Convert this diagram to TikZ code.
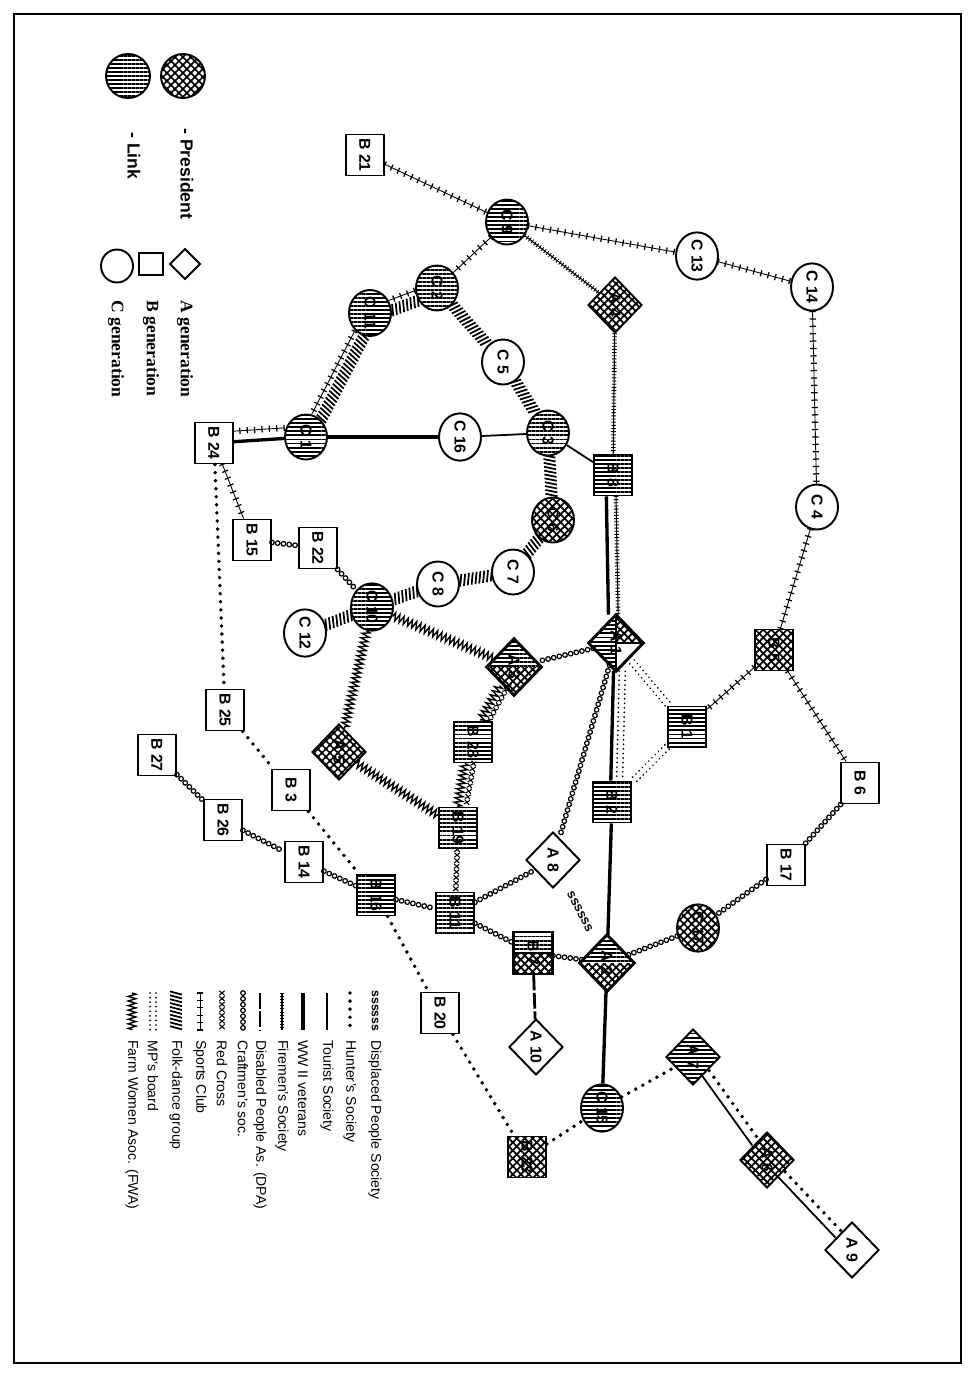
\documentclass[tikz,border=0pt]{standalone}
\usepackage{graphicx}
\usepackage{fontspec}
\setmainfont{Liberation Sans}
\newfontfamily\genfont{Liberation Serif}
\usetikzlibrary{shapes.geometric,patterns.meta,decorations.markings,decorations.pathmorphing}
\newcommand{\vlab}[1]{\rotatebox{-90}{#1}}

\tikzset{
  member/.style={draw, line width=1.1pt, inner sep=0pt, fill=white, font=\fontsize{9}{9}\selectfont\bfseries},
  anode/.style={member, diamond, aspect=1, minimum width=1.08cm, minimum height=1.12cm},
  bnode/.style={member, rectangle, minimum width=0.76cm, minimum height=0.82cm},
  cnode/.style={member, ellipse, minimum width=0.84cm, minimum height=0.9cm},
  lnk/.style={pattern={Lines[angle=0,distance=2.3pt,line width=1.1pt]}},
  pres/.style={pattern={Hatch[angle=45,distance=3.2pt,line width=1pt]}},
  % associations
  plusln/.style={draw, line width=0.5pt, postaction={decorate, decoration={markings,
    mark=between positions 0 and 1 step 4.2pt with {\draw[line width=0.7pt] (0,-1.8pt) -- (0,1.8pt);}}}},
  fire/.style={draw, line width=0.6pt, postaction={decorate, decoration={markings,
    mark=between positions 0 and 1 step 1.8pt with {\draw[line width=0.5pt] (0,-1.3pt) -- (0,1.3pt);}}}},
  xln/.style={postaction={decorate, decoration={markings,
    mark=between positions 0 and 1 step 3.2pt with {\draw[line width=0.6pt] (-1.3pt,-1.5pt) -- (1.3pt,1.5pt) (-1.3pt,1.5pt) -- (1.3pt,-1.5pt);}}}},
  ooln/.style={postaction={decorate, decoration={markings,
    mark=between positions 0 and 1 step 3.3pt with {\draw[line width=0.7pt] (0,0) circle (1.3pt);}}}},
  mpb/.style={postaction={decorate, decoration={markings,
    mark=between positions 0 and 1 step 2.6pt with {\fill (0,1.7pt) circle (0.55pt) (0,-1.7pt) circle (0.55pt);}}}},
  folk/.style={postaction={decorate, decoration={markings,
    mark=between positions 0 and 1 step 2.2pt with {\draw[line width=1pt] (-0.9pt,-3.4pt) -- (0.9pt,3.4pt);}}}},
  wwln/.style={draw, line width=0.8pt, decorate, decoration={zigzag, segment length=2.6pt, amplitude=2.2pt}},
  hunt/.style={draw, line width=2.2pt, line cap=round, dash pattern=on 0pt off 4.6pt},
  tour/.style={draw, line width=1pt},
  ww2/.style={draw, line width=1.9pt},
  dpa/.style={draw, line width=1.6pt, dash pattern=on 9pt off 1.5pt},
  ssslab/.style={sloped, inner sep=0pt, font=\fontsize{7.5}{7.5}\selectfont\bfseries},
  legtxt/.style={anchor=north, inner sep=0pt, font=\fontsize{8}{8}\selectfont},
  keytxt/.style={anchor=north, inner sep=0pt, font=\fontsize{10}{10}\selectfont\bfseries},
  gentxt/.style={anchor=north, inner sep=0pt, font=\fontsize{10}{10}\genfont\bfseries}
}

\begin{document}
\begin{tikzpicture}[x=0.02cm, y=-0.02cm]
\useasboundingbox (0,0) rectangle (974,1377);
\draw[line width=0.7pt] (14,14) rectangle (961,1363);

% key
\node[cnode, pres, minimum width=0.88cm, minimum height=0.88cm] (kpres) at (183,76) {};
\node[cnode, lnk, minimum width=0.88cm, minimum height=0.88cm] (klink) at (128,76) {};
\node[keytxt] (kprest) at (187,128) {\vlab{- President}};
\node[keytxt] (klinkt) at (134,132) {\vlab{- Link}};
\node[anode, minimum width=0.62cm, minimum height=0.62cm] (ka) at (185,264) {};
\node[bnode, minimum width=0.48cm, minimum height=0.44cm] (kb) at (151,264) {};
\node[cnode, minimum width=0.64cm, minimum height=0.66cm] (kc) at (117,266) {};
\node[gentxt] (kat) at (185,300) {\vlab{A generation}};
\node[gentxt] (kbt) at (151,300) {\vlab{B generation}};
\node[gentxt] (kct) at (116,300) {\vlab{C generation}};

% white members
\node[bnode] (b21) at (365,155) {\vlab{B 21}};
\node[cnode] (c13) at (697,256) {\vlab{C 13}};
\node[cnode] (c14) at (812,287) {\vlab{C 14}};
\node[cnode] (c5) at (503,362) {\vlab{C 5}};
\node[cnode] (c16) at (460,437) {\vlab{C 16}};
\node[bnode] (b24) at (214,443) {\vlab{B 24}};
\node[cnode] (c4) at (817,507) {\vlab{C 4}};
\node[bnode] (b15) at (252,540) {\vlab{B 15}};
\node[bnode] (b22) at (318,548) {\vlab{B 22}};
\node[cnode] (c7) at (513,572) {\vlab{C 7}};
\node[cnode] (c8) at (438,584) {\vlab{C 8}};
\node[cnode] (c12) at (305,633) {\vlab{C 12}};
\node[bnode] (b25) at (225,710) {\vlab{B 25}};
\node[bnode] (b27) at (157,755) {\vlab{B 27}};
\node[bnode] (b6) at (860,783) {\vlab{B 6}};
\node[bnode] (b3) at (291,790) {\vlab{B 3}};
\node[bnode] (b26) at (223,820) {\vlab{B 26}};
\node[bnode] (b14) at (304,862) {\vlab{B 14}};
\node[bnode] (b17) at (786,865) {\vlab{B 17}};
\node[anode] (a8) at (553,860) {\vlab{A 8}};
\node[bnode] (b20) at (440,1013) {\vlab{B 20}};
\node[anode] (a10) at (536,1047) {\vlab{A 10}};
\node[anode] (a9) at (852,1250) {\vlab{A 9}};

% links and presidents
\node[cnode, lnk] (c9) at (507,222) {\vlab{C 9}};
\node[cnode, lnk] (c2) at (437,288) {\vlab{C 2}};
\node[cnode, lnk] (c11) at (370,313) {\vlab{C 11}};
\node[cnode, lnk] (c1) at (306,437) {\vlab{C 1}};
\node[cnode, lnk] (c3) at (548,433) {\vlab{C 3}};
\node[cnode, pres] (c6) at (553,520) {\vlab{C 6}};
\node[cnode, lnk] (c10) at (372,607) {\vlab{C 10}};
\node[cnode, pres] (c17) at (698,928) {\vlab{C 17}};
\node[cnode, lnk] (c15) at (602,1108) {\vlab{C 15}};
\node[anode, pres] (a4) at (615,305) {\vlab{A 4}};
\node[anode, pres] (a5) at (339,752) {\vlab{A 5}};
\node[anode, lnk] (a7) at (693,1057) {\vlab{A 7}};
\node[anode, pres] (a6) at (767,1160) {\vlab{A 6}};
\node[bnode, lnk] (b8) at (613,475) {\vlab{B 8}};
\node[bnode, pres] (b5) at (774,650) {\vlab{B 5}};
\node[bnode, lnk] (b1) at (687,727) {\vlab{B 1}};
\node[bnode, lnk] (b28) at (473,742) {\vlab{B 28}};
\node[bnode, lnk] (b2) at (612,802) {\vlab{B 2}};
\node[bnode, lnk] (b19) at (458,828) {\vlab{B 19}};
\node[bnode, lnk] (b16) at (376,895) {\vlab{B 16}};
\node[bnode, lnk] (b11) at (455,913) {\vlab{B 11}};
\node[bnode, pres] (b23) at (527,1157) {\vlab{B 23}};

% split members
\node[anode] (a1) at (616,643) {\vlab{A 1}};
\fill[lnk] (a1.north) -- (a1.west) -- (a1.south) -- cycle;
\fill[pres] (a1.north) -- (a1.east) -- (a1.center) -- cycle;
\draw[line width=1.1pt] (a1.north) -- (a1.south) (a1.center) -- (a1.east);
\draw[line width=1.1pt] (a1.north) -- (a1.east) -- (a1.south) -- (a1.west) -- cycle;
\node[anode] (a3) at (514,667) {\vlab{A 3}};
\fill[lnk] (a3.west) -- (a3.north) -- (a3.east) -- cycle;
\fill[pres] (a3.west) -- (a3.south) -- (a3.east) -- cycle;
\draw[line width=1.1pt] (a3.north) -- (a3.east) -- (a3.south) -- (a3.west) -- cycle;
\node[anode] (a2) at (607,963) {\vlab{A 2}};
\fill[lnk] (a2.west) -- (a2.north) -- (a2.east) -- cycle;
\fill[pres] (a2.west) -- (a2.south) -- (a2.east) -- cycle;
\draw[line width=1.1pt] (a2.north) -- (a2.east) -- (a2.south) -- (a2.west) -- cycle;
\node[bnode] (b7) at (533,953) {\vlab{B 7}};
\fill[lnk] (b7.north west) rectangle (b7.east);
\fill[pres] (b7.west) rectangle (b7.south east);
\draw[line width=1.1pt] (b7.north west) rectangle (b7.south east) (b7.west) -- (b7.east);

% Sports Club
\path[plusln] (b21) -- (c9);
\path[plusln] (c9) -- (c13);
\path[plusln] (c13) -- (c14);
\path[plusln] (c14) -- (c4);
\path[plusln] (c4) -- (b5);
\path[plusln] (b5) -- (b1);
\path[plusln] (b5) -- (b6);
\path[plusln] (c9) -- (c2);
\path[plusln, transform canvas={xshift=-1pt, yshift=2.8pt}] (c2) -- (c11);
\path[plusln, transform canvas={xshift=-2.7pt, yshift=1.4pt}] (c11) -- (c1);
\path[plusln, transform canvas={yshift=6pt}] (c1) -- (b24);
\path[plusln] (b24) -- (b15);

% Folk-dance group
\path[folk, transform canvas={xshift=1pt, yshift=-2.8pt}] (c2) -- (c11);
\path[folk, transform canvas={xshift=2.7pt, yshift=-1.4pt}] (c11) -- (c1);
\path[folk] (c2) -- (c5);
\path[folk] (c5) -- (c3);
\path[folk] (c3) -- (c6);
\path[folk] (c6) -- (c7);
\path[folk] (c7) -- (c8);
\path[folk] (c8) -- (c10);
\path[folk] (c10) -- (c12);

% Tourist Society, WW II veterans
\path[ww2] (b24) -- (c1);
\path[ww2] (c1) -- (c16);
\path[tour] (c16) -- (c3);
\path[tour] (c3) -- (b8);
\path[ww2, transform canvas={xshift=-4pt}] (b8) -- (a1);
\path[ww2, transform canvas={xshift=-1pt}] (a1) -- (b2);
\path[ww2] (b2) -- (a2);
\path[ww2] (a2) -- (c15);
\path[tour, transform canvas={xshift=-1.6pt, yshift=-1.2pt}] (a7) -- (a6);
\path[tour, transform canvas={xshift=-1.6pt, yshift=-1.2pt}] (a6) -- (a9);

% Firemen's Society
\path[fire] (c9) -- (a4);
\path[fire] (a4) -- (b8);
\path[fire, transform canvas={xshift=1.5pt}] (b8) -- (a1);

% MP's board
\path[mpb, transform canvas={xshift=4pt}] (a1) -- (b2);
\path[mpb] (a1) -- (b1);
\path[mpb] (b1) -- (b2);

% Craftmen's soc.
\path[ooln] (b6) -- (b17);
\path[ooln] (b17) -- (c17);
\path[ooln] (c17) -- (a2);
\path[ooln] (a1) -- (a3);
\path[ooln] (a1) -- (a8);
\path[ooln] (b11) -- (a8);
\path[ooln] (b11) -- (b7);
\path[ooln] (b16) -- (b11);
\path[ooln] (b7) -- (a2);
\path[ooln] (b14) -- (b16);
\path[ooln] (b26) -- (b14);
\path[ooln] (b27) -- (b26);
\path[ooln] (b15) -- (b22);
\path[ooln] (b22) -- (c10);

% Red Cross
\path[xln, transform canvas={xshift=2.5pt}] (a3) -- (b28);
\path[xln, transform canvas={xshift=2.5pt}] (b28) -- (b19);
\path[xln] (b19) -- (b11);

% FWA
\path[wwln] (a3) -- (c10);
\path[wwln, transform canvas={xshift=-2.5pt}] (a3) -- (b28);
\path[wwln] (c10) -- (a5);
\path[wwln] (a5) -- (b19);
\path[wwln, transform canvas={xshift=-2.5pt}] (b28) -- (b19);

% DPA
\path[dpa] (b7) -- (a10);

% Hunter's Society
\path[hunt] (b24) -- (b25);
\path[hunt] (b25) -- (b3);
\path[hunt] (b3) -- (b16);
\path[hunt] (b16) -- (b20);
\path[hunt] (b20) -- (b23);
\path[hunt] (b23) -- (c15);
\path[hunt] (c15) -- (a7);
\path[hunt, transform canvas={xshift=2.4pt, yshift=1.7pt}] (a7) -- (a6);
\path[hunt, transform canvas={xshift=2.4pt, yshift=1.7pt}] (a6) -- (a9);

% Displaced People Society
\path (a8) -- node[ssslab] (dps) {ssssss} (a2);

% legend
\node[legtxt, font=\fontsize{7}{7}\selectfont\bfseries] (ks0) at (375,990) {\vlab{ssssss}};
\node[legtxt] (kt0) at (375,1040) {\vlab{Displaced People Society}};
\foreach \xx/\sty/\txt [count=\i] in {350/hunt/Hunter's Society, 327/tour/Tourist Society,
    303/ww2/WW II veterans, 282/fire/Firemen's Society, 260/dpa/Disabled People As. (DPA),
    243/ooln/Craftmen's soc., 222/xln/Red Cross, 200/plusln/Sports Club,
    176/folk/Folk-dance group, 153/mpb/MP's board, 132/wwln/Farm Women Asoc. (FWA)}{
  \coordinate (ks\i) at (\xx,993);
  \coordinate (ke\i) at (\xx,1030);
  \path[\sty] (ks\i) -- (ke\i);
  \node[legtxt] (kt\i) at (\xx,1040) {\vlab{\txt}};
}
\end{tikzpicture}
\end{document}
